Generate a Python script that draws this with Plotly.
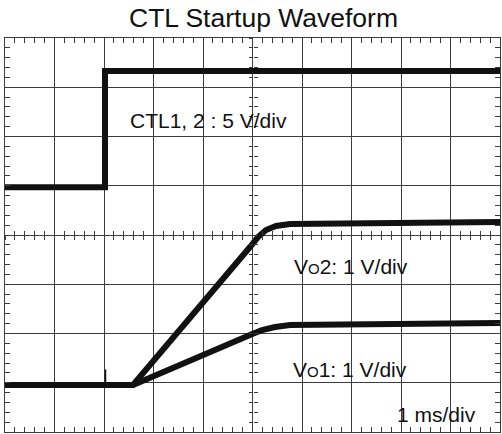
import plotly.graph_objects as go

# Oscilloscope screen: 10 horizontal divisions (1 ms/div), 8 vertical divisions
# All trace values are in screen divisions (x: ms, y: divisions from bottom)
ctl_t = [0.0, 2.02, 2.02, 10.0]
ctl_div = [4.97, 4.97, 7.33, 7.33]

vo2_t = [0.0, 2.586, 4.949, 5.111, 5.273, 5.475, 5.758, 10.0]
vo2_div = [0.954, 0.954, 3.756, 3.959, 4.102, 4.183, 4.223, 4.264]

vo1_t = [0.0, 2.586, 4.949, 5.192, 5.455, 5.758, 10.0]
vo1_div = [0.954, 0.954, 1.970, 2.071, 2.132, 2.173, 2.213]

# coupling glitch on the output traces at the CTL edge
glitch_t = [2.03, 2.03]
glitch_div = [0.954, 1.27]

labels = ["CTL1, 2 : 5 V/div",
          "V<span style='font-size:15px'>O</span>2: 1 V/div",
          "V<span style='font-size:15px'>O</span>1: 1 V/div",
          "1 ms/div"]
label_x = [2.49, 5.80, 5.78, 7.88]
label_y = [6.315, 3.37, 1.26, 0.365]

FONT = "Liberation Sans, Arial, sans-serif"
TRACE_COLOR = "#111111"
GRID = "#3c3c3c"

fig = go.Figure()
for t, v in [(ctl_t, ctl_div), (vo2_t, vo2_div), (vo1_t, vo1_div)]:
    fig.add_trace(go.Scatter(x=t, y=v, mode="lines",
                             line=dict(color=TRACE_COLOR, width=6),
                             hoverinfo="skip", showlegend=False))
fig.add_trace(go.Scatter(x=glitch_t, y=glitch_div, mode="lines",
                         line=dict(color=TRACE_COLOR, width=1.5),
                         hoverinfo="skip", showlegend=False))

# dummy traces so the centre-axis overlays are drawn
fig.add_trace(go.Scatter(x=[None], y=[None], xaxis="x2", yaxis="y2", showlegend=False))
fig.add_trace(go.Scatter(x=[None], y=[None], xaxis="x3", yaxis="y3", showlegend=False))

for txt, xx, yy in zip(labels, label_x, label_y):
    fig.add_annotation(x=xx, y=yy, xref="x", yref="y", text=txt,
                       showarrow=False, xanchor="left", yanchor="middle",
                       font=dict(family=FONT, size=21, color="#111111"))

border_axis = dict(dtick=1, showgrid=True, gridcolor=GRID, gridwidth=1,
                   zeroline=False, showticklabels=False, showline=True,
                   linecolor=GRID, linewidth=1, mirror="ticks",
                   ticks="inside", ticklen=5, tickcolor=GRID, tickwidth=1,
                   minor=dict(dtick=0.2, ticks="inside", ticklen=5,
                              tickcolor=GRID, tickwidth=1, showgrid=False),
                   fixedrange=True, automargin=False)

centre_tick = dict(dtick=0.2, showgrid=False, zeroline=False, showticklabels=False,
                   showline=False, ticklen=4, tickcolor=GRID, tickwidth=1,
                   anchor="free", position=0.5, fixedrange=True, automargin=False)

fig.update_layout(
    width=502, height=434,
    margin=dict(l=5, r=2, t=38, b=2, autoexpand=False),
    paper_bgcolor="white", plot_bgcolor="white",
    title=dict(text="CTL Startup Waveform", x=263.5 / 502, xanchor="center",
               y=1 - 18 / 434, yanchor="middle", yref="container",
               font=dict(family=FONT, size=26.5, color="#111111")),
    xaxis=dict(border_axis, range=[0, 10]),
    yaxis=dict(border_axis, range=[0, 8]),
    xaxis2=dict(centre_tick, range=[0, 10], overlaying="x", ticks="outside", side="bottom"),
    xaxis3=dict(centre_tick, range=[0, 10], overlaying="x", ticks="inside", side="bottom"),
    yaxis2=dict(centre_tick, range=[0, 8], overlaying="y", ticks="outside", side="left"),
    yaxis3=dict(centre_tick, range=[0, 8], overlaying="y", ticks="inside", side="left"),
)

fig.write_html("out.html", config={"displayModeBar": False},
               post_script="document.body.style.margin='0';document.body.style.overflow='hidden';")
